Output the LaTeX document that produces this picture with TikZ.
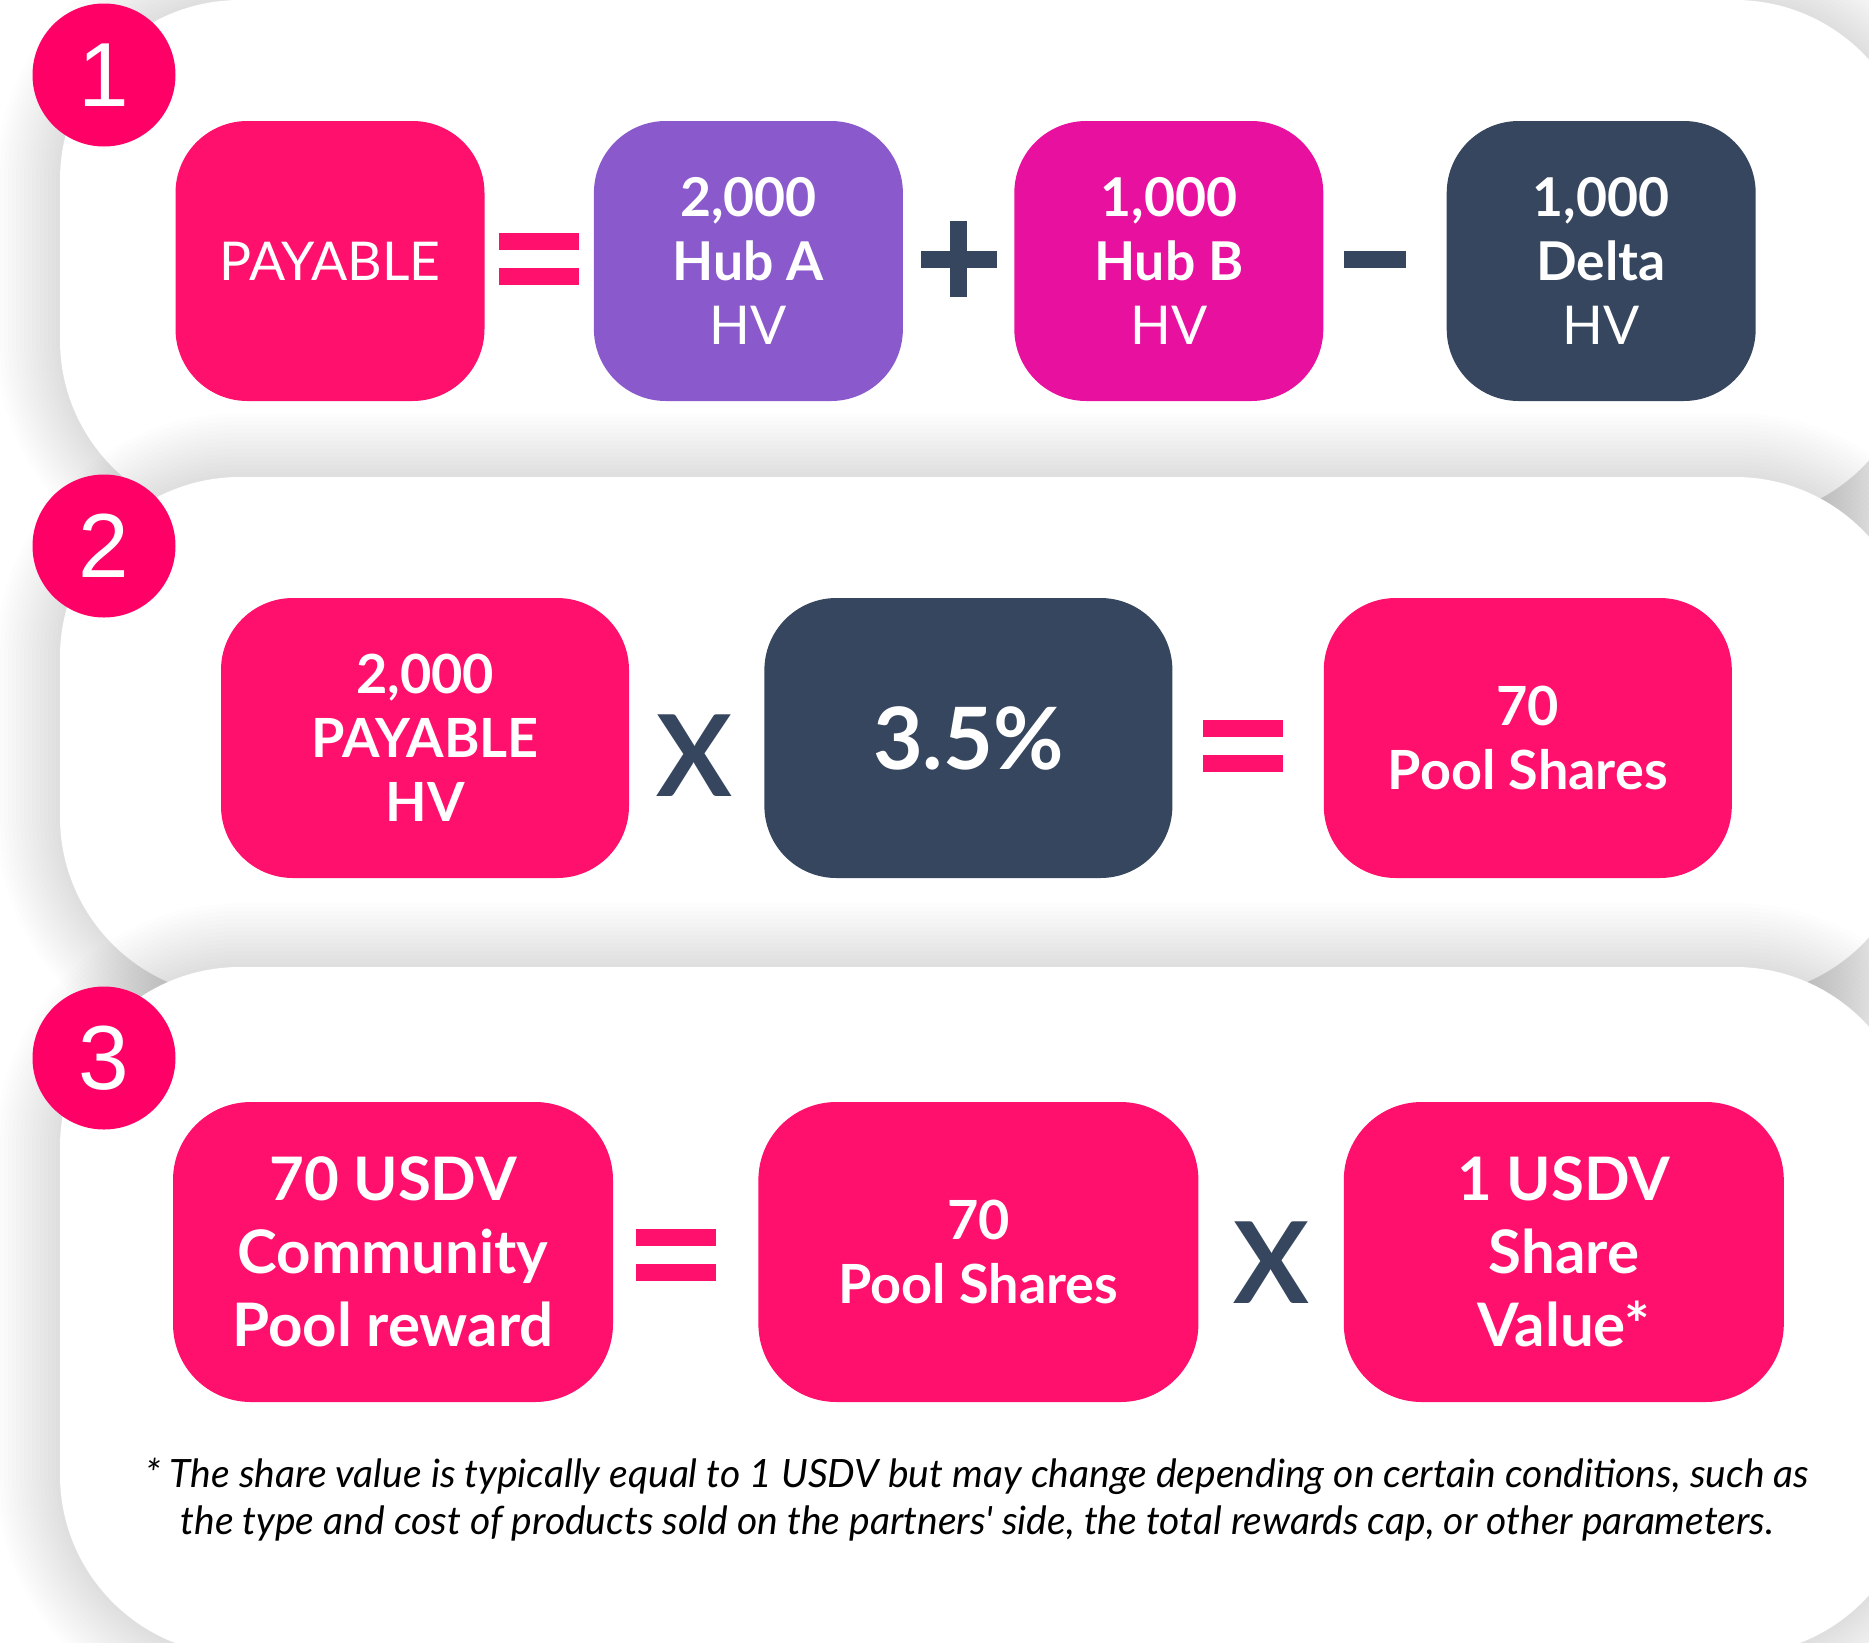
\documentclass[tikz,border=0pt]{standalone}
\usepackage{fontspec}
\setmainfont{Lato}
\newfontfamily\badgefont{Liberation Sans}
\usetikzlibrary{positioning,calc}
\definecolor{hotpink}{HTML}{FF106C}
\definecolor{badgepink}{HTML}{FF0066}
\definecolor{hubpurple}{HTML}{8A5ACD}
\definecolor{hubmagenta}{HTML}{E8109E}
\definecolor{navy}{HTML}{36465F}
\tikzset{
	box/.style 		= {rectangle, rounded corners = 72, inner sep = 0, text = white,
						align = center, font = \fontsize{53.5}{64}\selectfont},
	small box/.style 	= {box, minimum width = 309, minimum height = 280},
	mid box/.style 	= {box, minimum width = 408, minimum height = 280,
						font = \fontsize{54}{64}\selectfont\bfseries},
	big box/.style 	= {box, minimum width = 440, minimum height = 300, rounded corners = 78,
						font = \fontsize{60}{73}\selectfont\bfseries},
	badge/.style 		= {circle, fill = badgepink, minimum size = 143, inner sep = 0,
						text = white, font = \badgefont\fontsize{91}{91}\selectfont},
	times sign/.style = {inner sep = 0, text = navy, font = \fontsize{113}{113}\selectfont\bfseries},
	note/.style 		= {align = center, inner sep = 0, font = \fontsize{39}{47}\selectfont\itshape},
	panel/.style 		= {fill = white, rounded corners = 180},
	eq sign/.pic 		= {
		\fill[hotpink] (-40,-26) rectangle (40,-9);
		\fill[hotpink] (-40,9) rectangle (40,26);},
	plus sign/.pic 	= {
		\fill[navy] (-38,-8.5) rectangle (38,8.5);
		\fill[navy] (-8.5,-38) rectangle (8.5,38);},
	minus sign/.pic 	= {\fill[navy] (-31,-8.5) rectangle (31,8.5);},
}
% white card with a soft shadow: top, bottom
\newcommand{\shadedpanel}[2]{%
	\foreach \s in {64,60,...,4}
		\fill[black, opacity = .006, rounded corners = 180+\s] (60-\s,#1-\s) rectangle (1915+\s,#2+\s);
	\fill[panel] (60,#1) rectangle (1915,#2);
}

\begin{document}
\begin{tikzpicture}[x = 1pt, y = -1pt]
\useasboundingbox (0,0) rectangle (1869,1642);
\clip (0,0) rectangle (1869,1642);
\fill[white] (0,0) rectangle (1869,1642);

\shadedpanel{0}{520}
\shadedpanel{477}{997}
\shadedpanel{967}{1655}

% step 1
\node[small box, fill = hotpink] (pay) at (330,261) {PAYABLE};
\node[small box, fill = hubpurple, right = 109pt of pay] (huba) {\textbf{2,000}\\\textbf{Hub A}\\HV};
\node[small box, fill = hubmagenta, right = 111pt of huba] (hubb) {\textbf{1,000}\\\textbf{Hub B}\\HV};
\node[small box, fill = navy, right = 123pt of hubb] (delta) {\textbf{1,000}\\\textbf{Delta}\\HV};
\path ($(pay.east)!.5!(huba.west)+(0,-2)$) pic {eq sign};
\path ($(huba.east)!.5!(hubb.west)+(0,-2)$) pic {plus sign};
\path ($(hubb.east)!.5!(delta.west)+(-10,-2)$) pic {minus sign};

% step 2
\node[mid box, fill = hotpink] (payhv) at (425,738) {2,000\\PAYABLE\\HV};
\node[mid box, fill = navy, right = 135pt of payhv, font = \fontsize{86}{86}\selectfont\bfseries] (rate) {3.5\%};
\node[mid box, fill = hotpink, right = 151pt of rate] (shares) {70\\Pool Shares};
\node[times sign] (x1) at ($(payhv.east)!.5!(rate.west)+(-2,18)$) {X};
\path ($(rate.east)!.5!(shares.west)+(-5,8)$) pic {eq sign};

% step 3
\node[big box, fill = hotpink] (reward) at (393,1252) {70 USDV\\Community\\Pool reward};
\node[big box, fill = hotpink, right = 145pt of reward, font = \fontsize{54}{64}\selectfont\bfseries] (poolsh) {70\\Pool Shares};
\node[big box, fill = hotpink, right = 145pt of poolsh] (shareval) {1 USDV\\Share\\Value*};
\path ($(reward.east)!.5!(poolsh.west)+(-10,3)$) pic {eq sign};
\node[times sign] (x2) at ($(poolsh.east)!.5!(shareval.west)+(0,11)$) {X};

\node[note] (fn) at (977,1500) {* The share value is typically equal to 1 USDV but may change depending on certain conditions, such as\\
	the type and cost of products sold on the partners\textquotesingle{} side, the total rewards cap, or other parameters.};

% numbers
\node[badge] (n1) at (104,75) {1};
\node[badge] (n2) at (104,546) {2};
\node[badge] (n3) at (104,1058) {3};
\end{tikzpicture}
\end{document}
